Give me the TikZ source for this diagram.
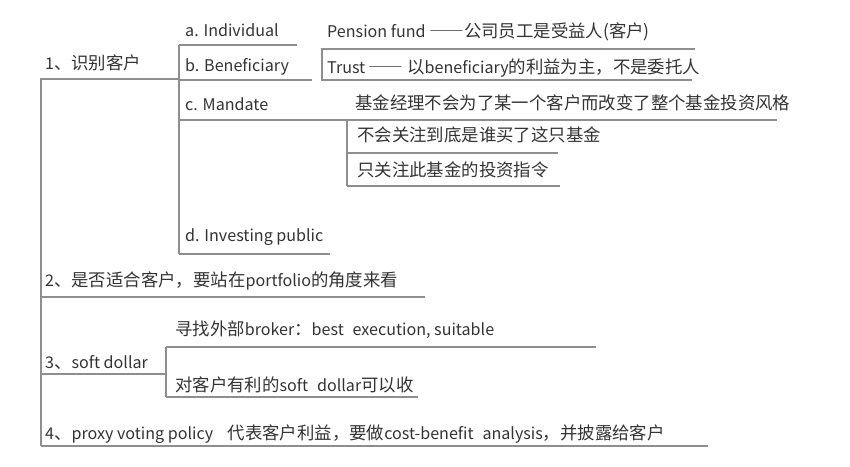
\documentclass[tikz,border=0pt]{standalone}
\usepackage{fontspec}
\setmainfont{Noto Sans CJK SC}
\definecolor{txt}{HTML}{333333}
\definecolor{ln}{HTML}{8E8E8E}
\newcommand\zh[1]{{\fontsize{17.4}{18}\selectfont #1}}
\newcommand\twodash{{\fontsize{17.4}{18}\selectfont\addfontfeatures{CharacterWidth=Full}——}}
\newcommand\wsp{\hspace{0.55em}}
\begin{document}
\begin{tikzpicture}[x=1pt,y=-1pt,
  lbl/.style={anchor=base west, inner sep=0pt, text=txt, font=\fontsize{16.1}{18}\selectfont},
  ul/.style={draw=ln, line width=1.5pt, line cap=butt}]
\useasboundingbox (0,0) rectangle (850,466);

% coordinates
\coordinate (r1s) at (40,79);   \coordinate (r1e) at (179,79);
\coordinate (mvt) at (41,79);   \coordinate (mvb) at (41,446);
\coordinate (as) at (179,45);   \coordinate (ae) at (297,45);
\coordinate (svb) at (179,254);
\coordinate (bs) at (179,80);   \coordinate (be) at (312,80);
\coordinate (pts) at (322,49);  \coordinate (pte) at (695,49);
\coordinate (tbs) at (322,80);  \coordinate (tbe) at (692,80);
\coordinate (cs) at (179,120);  \coordinate (ce) at (777,120);
\coordinate (cvt) at (347,120); \coordinate (cvb) at (347,186);
\coordinate (c1s) at (347,153); \coordinate (c1e) at (558,153);
\coordinate (c2e) at (560,186);
\coordinate (de) at (330,254);
\coordinate (s2s) at (41,297);  \coordinate (s2e) at (425,297);
\coordinate (brs) at (166,347); \coordinate (bre) at (596,347);
\coordinate (sdvb) at (166,397);
\coordinate (sds) at (41,374);  \coordinate (sde) at (166,374);
\coordinate (dke) at (418,397);
\coordinate (s4s) at (41,446);  \coordinate (s4e) at (708,446);

% lines
\draw[ul] (r1s) -- (r1e);
\draw[ul] (mvt) -- (mvb);
\draw[ul] (as) -- (ae);
\draw[ul] (as) -- (svb);
\draw[ul] (bs) -- (be);
\draw[ul] (pte) -- (pts) -- (tbs) -- (tbe);
\draw[ul] (cs) -- (ce);
\draw[ul] (cvt) -- (cvb);
\draw[ul] (c1s) -- (c1e);
\draw[ul] (cvb) -- (c2e);
\draw[ul] (svb) -- (de);
\draw[ul] (s2s) -- (s2e);
\draw[ul] (brs) -- (bre);
\draw[ul] (brs) -- (sdvb);
\draw[ul] (sds) -- (sde);
\draw[ul] (sdvb) -- (dke);
\draw[ul] (s4s) -- (s4e);

% texts
\node[lbl] (t1) at (45,69) {1\zh{、识别客户}};
\node[lbl] (ta) at (185,36) {a. Individual};
\node[lbl] (tb) at (185,71) {b. Beneficiary};
\node[lbl] (tp) at (327,37) {Pension fund \twodash\zh{公司员工是受益人(客户)}};
\node[lbl] (tt) at (327,73) {Trust \twodash\ \zh{以}beneficiary\zh{的利益为主，不是委托人}};
\node[lbl] (tc) at (185,110) {c. Mandate};
\node[lbl] (tc0) at (355,109) {\zh{基金经理不会为了某一个客户而改变了整个基金投资风格}};
\node[lbl] (tc1) at (357,141) {\zh{不会关注到底是谁买了这只基金}};
\node[lbl] (tc2) at (357,176) {\zh{只关注此基金的投资指令}};
\node[lbl] (td) at (185,241) {d. Investing public};
\node[lbl] (t2) at (45,286) {2\zh{、是否适合客户，要站在}portfolio\zh{的角度来看}};
\node[lbl] (tbr) at (175,335) {\zh{寻找外部}broker\zh{：}best\wsp execution, suitable};
\node[lbl] (t3) at (45,368) {3\zh{、}soft dollar};
\node[lbl] (tdk) at (175,391) {\zh{对客户有利的}soft\wsp dollar\zh{可以收}};
\node[lbl] (t4) at (45,439) {4\zh{、}proxy voting policy\hspace{0.9em}\zh{代表客户利益，要做}cost-benefit\wsp analysis\zh{，并披露给客户}};
\end{tikzpicture}
\end{document}
